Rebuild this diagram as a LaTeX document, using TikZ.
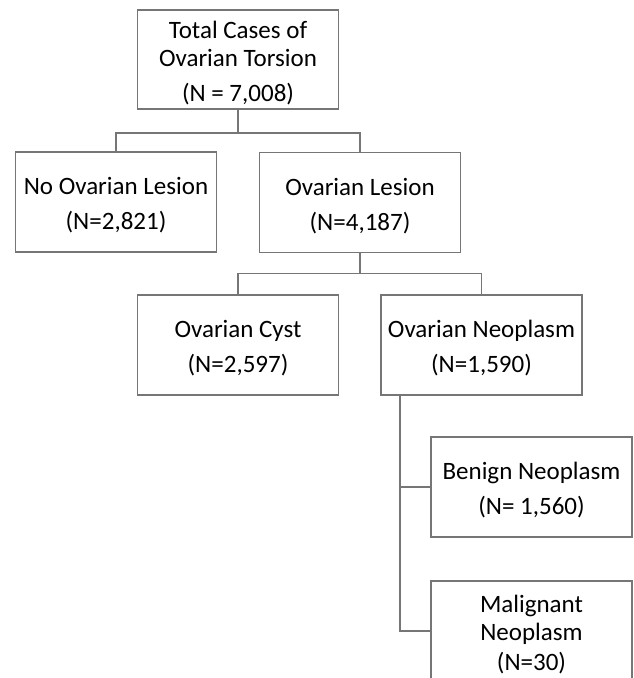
\documentclass[tikz,border=0pt]{standalone}
\usepackage{fontspec}
\setmainfont{Carlito}
\definecolor{linegray}{RGB}{118,118,118}
\newcommand\myupstrut{\rule{0pt}{24pt}}
\tikzset{
  box/.style={draw=linegray, line width=1.8pt, fill=white, minimum width=201pt, minimum height=100pt,
    inner sep=0pt, align=center, font=\fontsize{25}{28}\selectfont},
  conn/.style={draw=linegray, line width=1.8pt}
}
\begin{document}
\begin{tikzpicture}[x=1pt,y=-1pt]
\useasboundingbox (0,0) rectangle (633,678);
\clip (0,0) rectangle (633,678);
\node[box, minimum height=99pt] (top) at (238,59.5) {\myupstrut Total Cases of\\Ovarian Torsion\\[7pt](N = 7,008)};
\node[box] (nol) at (116,202) {\myupstrut No Ovarian Lesion\\[7pt](N=2,821)};
\node[box] (les) at (360,202.5) {\myupstrut Ovarian Lesion\\[7pt](N=4,187)};
\node[box] (cyst) at (238,345) {\myupstrut Ovarian Cyst\\[7pt](N=2,597)};
\node[box] (neo) at (481.5,345) {\myupstrut Ovarian Neoplasm\\[7pt](N=1,590)};
\node[box] (ben) at (531.5,487) {\myupstrut Benign Neoplasm\\[7pt](N= 1,560)};
\node[box] (mal) at (531.5,631) {\myupstrut Malignant\\Neoplasm\\[2pt](N=30)};
\draw[conn] (top.south) -- ++(0,23) coordinate (j1) -| (nol.north);
\draw[conn] (j1) -| (les.north);
\draw[conn] (les.south) -- ++(0,20) coordinate (j2) -| (cyst.north);
\draw[conn] (j2) -| (neo.north);
\path (neo.south west) ++(20,0) coordinate (t0);
\draw[conn] (t0) |- (ben.west);
\draw[conn] (t0) |- (mal.west);
\end{tikzpicture}
\end{document}
